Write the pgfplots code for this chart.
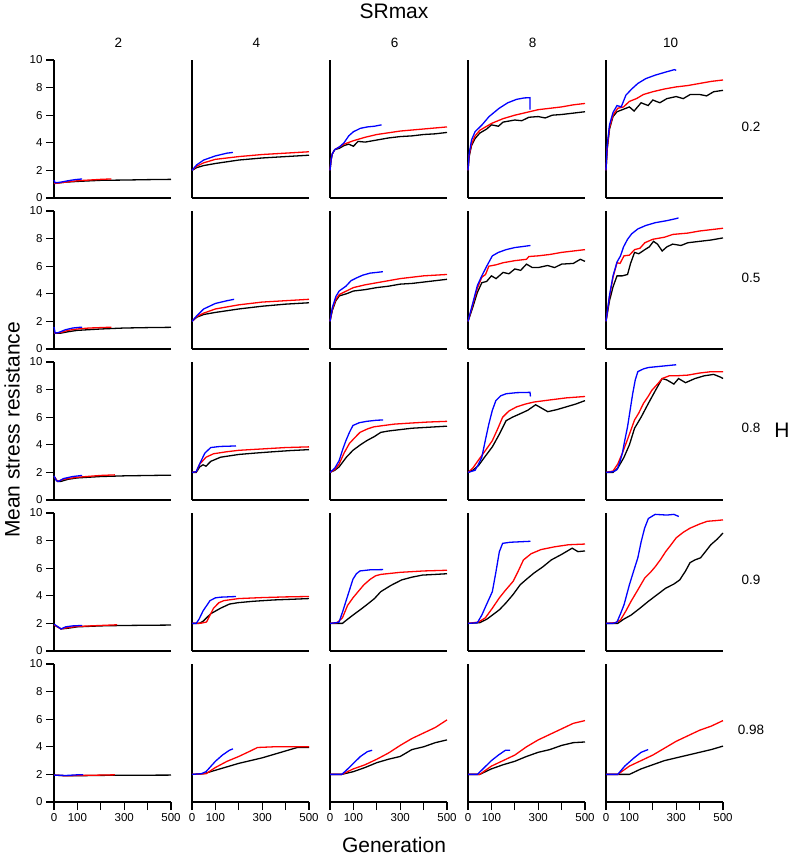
\documentclass[border=0pt]{standalone}
\usepackage{fontspec}
\setmainfont{Liberation Sans}
\usepackage{pgfplots}
\pgfplotsset{compat=1.18}
\pgfplotsset{
  panel/.style={scale only axis, width=117pt, height=138pt,
    xmin=0, xmax=500, ymin=0, ymax=10,
    axis x line*=bottom, axis y line*=left,
    axis line style={line width=1.2pt, black},
    xtick=\empty, ytick=\empty, anchor=south west, clip=false,
    tick align=outside, major tick length=8pt,
    tick style={line width=1.2pt, black},
    ticklabel style={font=\fontsize{11.5}{13}\selectfont},
    every axis plot/.append style={line width=1.3pt, no marks}},
  leftcol/.style={ytick={0,2,4,6,8,10}, yticklabels={0,2,4,6,8,10}},
  bottomrow/.style={xtick={0,100,200,300,400,500}, xticklabels={0,100,,300,,500}}
}
\newcommand\panel[6]{%
\begin{axis}[panel, at={(#1pt,#2pt)}, #3]
\addplot[black] coordinates {#4};
\addplot[red] coordinates {#5};
\addplot[blue] coordinates {#6};
\end{axis}}
\begin{document}
\begin{tikzpicture}
\path[use as bounding box] (0,0) rectangle (790pt,856pt);
% ---------------- Row 1: H = 0.2
\panel{54}{658}{leftcol}
{(0,1.05)(50,1.15)(100,1.2)(200,1.28)(300,1.3)(400,1.33)(500,1.35)}
{(0,1.05)(50,1.15)(100,1.25)(150,1.3)(200,1.35)(245,1.38)}
{(0,1.3)(5,1.1)(30,1.15)(60,1.25)(90,1.33)(120,1.38)}
\panel{192}{658}{}
{(0,2.0)(20,2.2)(50,2.35)(100,2.5)(200,2.75)(300,2.9)(400,3.0)(500,3.1)}
{(0,2.0)(20,2.3)(50,2.55)(100,2.8)(200,3.0)(300,3.15)(400,3.25)(500,3.35)}
{(0,2.0)(20,2.4)(50,2.75)(100,3.05)(150,3.25)(175,3.3)}
\panel{330}{658}{}
{(0,2.0)(5,2.8)(10,3.2)(20,3.5)(40,3.6)(60,3.8)(80,3.9)(100,3.75)(120,4.1)(150,4.05)(200,4.2)(250,4.35)(300,4.45)(350,4.5)(400,4.6)(450,4.65)(500,4.75)}
{(0,2)(5,2.8)(10,3.2)(20,3.5)(40,3.7)(60,3.9)(100,4.15)(150,4.4)(200,4.6)(300,4.85)(400,5.0)(500,5.15)}
{(0,2)(5,2.8)(10,3.2)(20,3.5)(40,3.7)(60,4.0)(80,4.5)(100,4.8)(130,5.05)(160,5.15)(190,5.2)(220,5.3)}
\panel{468}{658}{}
{(0,2)(5,3.0)(15,3.8)(30,4.3)(50,4.7)(80,5.0)(100,5.3)(130,5.2)(150,5.5)(200,5.65)(230,5.6)(260,5.85)(300,5.9)(330,5.8)(360,6.0)(400,6.05)(450,6.15)(500,6.25)}
{(0,2)(5,3.1)(15,3.9)(30,4.5)(50,4.9)(80,5.2)(100,5.4)(150,5.75)(200,6.0)(250,6.2)(300,6.4)(350,6.5)(400,6.6)(450,6.75)(500,6.85)}
{(0,2)(5,3.2)(15,4.2)(30,4.8)(60,5.3)(90,5.9)(133,6.5)(170,6.9)(208,7.15)(240,7.25)(265,7.27)(265,6.4)}
\panel{606}{658}{}
{(0,2)(5,3.5)(15,5.0)(30,5.9)(47,6.25)(70,6.4)(100,6.6)(120,6.3)(150,6.9)(180,6.7)(200,7.1)(230,6.9)(260,7.2)(300,7.35)(330,7.2)(360,7.5)(400,7.5)(430,7.4)(460,7.7)(500,7.8)}
{(0,2)(5,3.6)(15,5.1)(30,6.0)(50,6.5)(75,6.6)(100,7.0)(130,7.2)(160,7.5)(200,7.7)(250,7.9)(300,8.05)(350,8.15)(400,8.3)(450,8.45)(500,8.55)}
{(0,2)(5,3.8)(15,5.3)(30,6.2)(47,6.7)(65,6.6)(85,7.45)(110,7.9)(136,8.3)(170,8.65)(210,8.9)(250,9.1)(292,9.3)(300,9.25)}
% ---------------- Row 2: H = 0.5
\panel{54}{507}{leftcol}
{(0,1.15)(30,1.15)(60,1.25)(100,1.35)(200,1.45)(300,1.52)(400,1.55)(500,1.57)}
{(0,1.15)(30,1.2)(60,1.35)(100,1.45)(150,1.52)(200,1.55)(245,1.58)}
{(0,1.6)(5,1.15)(20,1.2)(50,1.4)(80,1.52)(110,1.57)(120,1.58)}
\panel{192}{507}{}
{(0,2)(20,2.3)(50,2.5)(100,2.65)(200,2.9)(300,3.1)(400,3.25)(500,3.35)}
{(0,2)(20,2.35)(50,2.6)(100,2.9)(200,3.2)(300,3.4)(400,3.5)(500,3.6)}
{(0,2)(20,2.4)(50,2.9)(100,3.3)(150,3.5)(180,3.6)}
\panel{330}{507}{}
{(0,2)(10,2.8)(25,3.5)(40,3.85)(70,4.0)(100,4.2)(150,4.3)(200,4.45)(250,4.55)(300,4.7)(350,4.75)(400,4.85)(450,4.95)(500,5.05)}
{(0,2)(10,2.9)(25,3.6)(40,3.95)(70,4.2)(100,4.45)(150,4.65)(200,4.8)(300,5.1)(400,5.3)(500,5.4)}
{(0,2)(10,3.0)(25,3.8)(39,4.2)(68,4.55)(90,4.95)(113,5.15)(140,5.35)(172,5.5)(200,5.55)(226,5.6)}
\panel{468}{507}{}
{(0,2)(20,3.0)(40,4.1)(59,4.8)(80,4.9)(100,5.3)(120,5.1)(150,5.55)(175,5.45)(200,5.8)(225,5.7)(250,6.15)(275,5.9)(300,5.9)(340,6.05)(370,5.9)(400,6.15)(450,6.2)(480,6.5)(500,6.35)}
{(0,2)(20,3.2)(40,4.4)(59,5.2)(75,5.4)(89,6.0)(120,6.1)(150,6.25)(200,6.4)(250,6.5)(260,6.7)(300,6.75)(350,6.85)(400,7.0)(450,7.1)(500,7.2)}
{(0,2)(20,3.3)(40,4.6)(59,5.3)(80,6.0)(104,6.75)(130,7.0)(163,7.2)(200,7.35)(223,7.4)(267,7.5)}
\panel{606}{507}{}
{(0,2)(15,3.5)(30,4.5)(47,5.3)(70,5.3)(92,5.4)(105,6.2)(122,7.0)(140,6.9)(166,7.2)(185,7.4)(203,7.8)(220,7.6)(240,7.1)(260,7.4)(285,7.6)(320,7.5)(350,7.7)(400,7.8)(450,7.9)(500,8.05)}
{(0,2)(15,3.8)(30,5.2)(47,6.25)(60,6.2)(77,6.75)(100,6.8)(122,7.2)(145,7.3)(166,7.7)(200,7.95)(250,8.1)(285,8.3)(350,8.4)(400,8.55)(450,8.65)(500,8.75)}
{(0,2)(15,3.9)(30,5.3)(47,6.3)(62,6.75)(75,7.4)(92,7.95)(110,8.35)(136,8.7)(170,8.95)(210,9.15)(260,9.3)(300,9.45)(310,9.5)}
% ---------------- Row 3: H = 0.8
\panel{54}{356}{leftcol}
{(0,1.7)(15,1.35)(30,1.35)(60,1.5)(100,1.6)(200,1.7)(300,1.75)(500,1.8)}
{(0,1.7)(15,1.35)(40,1.5)(100,1.65)(200,1.78)(260,1.82)}
{(0,1.75)(10,1.4)(20,1.35)(40,1.55)(80,1.7)(120,1.78)}
\panel{192}{356}{}
{(0,2)(18,2.0)(33,2.4)(47,2.55)(60,2.45)(80,2.8)(122,3.1)(200,3.3)(270,3.4)(350,3.5)(420,3.58)(500,3.65)}
{(0,2)(18,2.05)(33,2.6)(60,3.1)(92,3.35)(150,3.5)(200,3.6)(300,3.7)(400,3.8)(500,3.85)}
{(0,2)(18,2.05)(35,2.7)(55,3.4)(80,3.8)(120,3.88)(160,3.9)(188,3.92)}
\panel{330}{356}{}
{(0,2)(20,2.15)(39,2.4)(70,3.1)(98,3.6)(130,4.0)(157,4.3)(190,4.6)(217,4.9)(250,5.0)(300,5.1)(350,5.2)(400,5.25)(450,5.3)(500,5.35)}
{(0,2)(20,2.2)(39,2.6)(60,3.4)(83,4.1)(105,4.5)(128,4.9)(160,5.15)(187,5.3)(230,5.4)(276,5.5)(350,5.58)(420,5.65)(500,5.7)}
{(0,2)(20,2.3)(39,2.85)(55,3.7)(68,4.3)(83,4.9)(98,5.4)(125,5.6)(157,5.7)(200,5.78)(227,5.8)}
\panel{468}{356}{}
{(0,2)(20,2.15)(45,2.5)(75,3.2)(104,3.85)(135,4.8)(163,5.75)(190,6.0)(223,6.25)(255,6.5)(289,6.9)(310,6.7)(341,6.4)(380,6.55)(420,6.75)(460,6.95)(500,7.2)}
{(0,2)(20,2.3)(45,2.9)(75,3.6)(104,4.3)(128,5.2)(148,6.0)(175,6.45)(208,6.75)(245,6.95)(282,7.1)(350,7.25)(420,7.4)(500,7.5)}
{(0,2)(20,2.1)(30,2.15)(45,2.6)(59,3.1)(75,4.4)(89,5.5)(104,6.5)(119,7.2)(140,7.55)(163,7.7)(210,7.78)(265,7.8)(267,7.5)}
\panel{606}{356}{}
{(0,2)(30,2.0)(50,2.3)(77,3.1)(100,4.0)(122,5.2)(150,6.0)(181,7.0)(210,7.9)(240,8.8)(260,8.7)(290,8.4)(310,8.8)(340,8.5)(380,8.8)(420,9.0)(460,9.1)(490,8.9)(500,8.8)}
{(0,2)(30,2.1)(50,2.6)(70,3.4)(90,4.3)(105,5.0)(122,5.8)(140,6.3)(160,7.0)(180,7.5)(196,7.95)(220,8.4)(240,8.8)(270,9.0)(300,9.0)(350,9.05)(400,9.2)(450,9.3)(500,9.3)}
{(0,2)(30,2.05)(47,2.2)(60,2.8)(70,3.4)(80,4.3)(92,5.3)(103,6.5)(114,7.7)(125,8.7)(136,9.3)(160,9.5)(181,9.6)(240,9.7)(300,9.8)}
% ---------------- Row 4: H = 0.9
\panel{54}{205}{leftcol}
{(0,1.9)(30,1.6)(60,1.65)(100,1.75)(200,1.82)(300,1.85)(500,1.88)}
{(0,1.9)(30,1.6)(60,1.7)(100,1.78)(200,1.85)(270,1.9)}
{(0,1.95)(30,1.6)(50,1.75)(80,1.82)(120,1.85)}
\panel{192}{205}{}
{(0,2)(30,2.0)(47,2.15)(80,2.7)(122,3.1)(160,3.4)(196,3.5)(260,3.6)(350,3.7)(430,3.75)(500,3.8)}
{(0,2)(40,2.02)(62,2.1)(92,3.1)(115,3.5)(136,3.65)(200,3.8)(300,3.87)(400,3.92)(500,3.95)}
{(0,2)(18,2.0)(30,2.3)(47,2.9)(77,3.65)(100,3.85)(122,3.9)(150,3.92)(188,3.95)}
\panel{330}{205}{}
{(0,2)(53,2.0)(75,2.3)(98,2.6)(130,3.0)(157,3.35)(190,3.8)(217,4.3)(260,4.75)(306,5.15)(350,5.35)(395,5.5)(450,5.55)(500,5.6)}
{(0,2)(30,2.05)(53,2.4)(75,3.3)(98,3.85)(120,4.3)(145,4.8)(172,5.2)(195,5.45)(217,5.55)(300,5.7)(400,5.8)(500,5.85)}
{(0,2)(25,2.05)(39,2.1)(55,2.9)(68,3.6)(83,4.4)(98,5.2)(113,5.6)(128,5.8)(170,5.88)(227,5.9)}
\panel{468}{205}{}
{(0,2)(50,2.05)(80,2.3)(104,2.6)(135,3.0)(163,3.5)(193,4.1)(223,4.8)(250,5.2)(282,5.65)(320,6.1)(356,6.6)(400,7.0)(445,7.45)(470,7.2)(500,7.25)}
{(0,2)(45,2.1)(74,2.4)(104,3.1)(134,3.85)(160,4.4)(193,5.05)(215,5.8)(237,6.6)(270,7.05)(312,7.35)(370,7.55)(430,7.7)(500,7.75)}
{(0,2)(40,2.05)(59,2.6)(80,3.4)(104,4.3)(119,5.7)(134,7.2)(148,7.8)(180,7.88)(230,7.92)(267,7.95)}
\panel{606}{205}{}
{(0,2)(50,2.0)(75,2.3)(107,2.6)(145,3.1)(181,3.6)(220,4.1)(255,4.55)(290,4.85)(315,5.15)(340,5.8)(359,6.4)(380,6.6)(404,6.75)(425,7.2)(448,7.7)(475,8.1)(500,8.55)}
{(0,2)(40,2.05)(62,2.25)(85,2.9)(107,3.6)(135,4.4)(166,5.3)(190,5.7)(210,6.1)(232,6.6)(255,7.2)(278,7.7)(300,8.2)(330,8.6)(359,8.9)(400,9.2)(433,9.4)(470,9.45)(500,9.5)}
{(0,2)(30,2.0)(47,2.1)(62,2.7)(77,3.35)(100,4.8)(120,5.9)(136,6.75)(150,7.9)(165,8.9)(181,9.6)(210,9.9)(260,9.85)(290,9.9)(311,9.75)}
% ---------------- Row 5: H = 0.98
\panel{54}{54}{leftcol,bottomrow}
{(0,1.95)(50,1.9)(100,1.9)(200,1.93)(500,1.95)}
{(0,1.95)(50,1.9)(100,1.92)(200,1.95)(260,1.97)}
{(0,1.95)(50,1.92)(100,1.97)(125,1.98)}
\panel{192}{54}{bottomrow}
{(0,2)(50,2.05)(100,2.3)(200,2.8)(300,3.2)(400,3.7)(450,3.95)(500,3.95)}
{(0,2)(60,2.05)(100,2.5)(150,2.95)(200,3.3)(250,3.7)(280,3.95)(350,4.0)(500,4.0)}
{(0,2)(40,2.05)(60,2.2)(100,2.95)(130,3.4)(160,3.75)(175,3.85)}
\panel{330}{54}{bottomrow}
{(0,2)(50,2.0)(100,2.2)(150,2.5)(200,2.85)(250,3.1)(300,3.3)(350,3.8)(400,4.0)(450,4.3)(500,4.5)}
{(0,2)(50,2.0)(100,2.4)(150,2.7)(200,3.1)(250,3.55)(300,4.1)(350,4.6)(400,5.0)(450,5.4)(500,5.95)}
{(0,2)(50,2.0)(70,2.3)(100,2.8)(130,3.3)(160,3.65)(180,3.75)}
\panel{468}{54}{bottomrow}
{(0,2)(50,2.0)(100,2.4)(150,2.7)(200,2.95)(250,3.3)(300,3.6)(350,3.8)(400,4.1)(450,4.3)(500,4.35)}
{(0,2)(50,2.0)(100,2.6)(150,3.0)(200,3.4)(250,4.0)(300,4.5)(350,4.9)(400,5.3)(450,5.7)(500,5.9)}
{(0,2)(40,2.0)(70,2.5)(100,3.0)(130,3.4)(160,3.75)(180,3.75)}
\panel{606}{54}{bottomrow}
{(0,2)(100,2.0)(150,2.4)(200,2.7)(250,3.0)(300,3.2)(350,3.4)(400,3.6)(450,3.8)(500,4.05)}
{(0,2)(50,2.0)(100,2.6)(150,3.0)(200,3.4)(250,3.9)(300,4.4)(350,4.8)(400,5.2)(450,5.5)(500,5.9)}
{(0,2)(50,2.0)(80,2.6)(120,3.2)(150,3.6)(180,3.8)}
% ---------------- Labels
\node[font=\fontsize{21}{24}\selectfont] at (394pt,845pt) {SRmax};
\foreach \x/\l in {118.5/2, 256.5/4, 394.5/6, 532.5/8, 670.5/10}
  \node[font=\fontsize{13.5}{15}\selectfont] at (\x pt,813pt) {\l};
\foreach \y/\l in {729/0.2, 578/0.5, 428/0.8, 276/0.9, 126/0.98}
  \node[font=\fontsize{13.5}{15}\selectfont] at (751pt,\y pt) {\l};
\node[font=\fontsize{21}{24}\selectfont] at (782pt,426pt) {H};
\node[font=\fontsize{21}{24}\selectfont, rotate=90] at (12pt,426pt) {Mean stress resistance};
\node[font=\fontsize{21}{24}\selectfont] at (394pt,11pt) {Generation};
\end{tikzpicture}
\end{document}
